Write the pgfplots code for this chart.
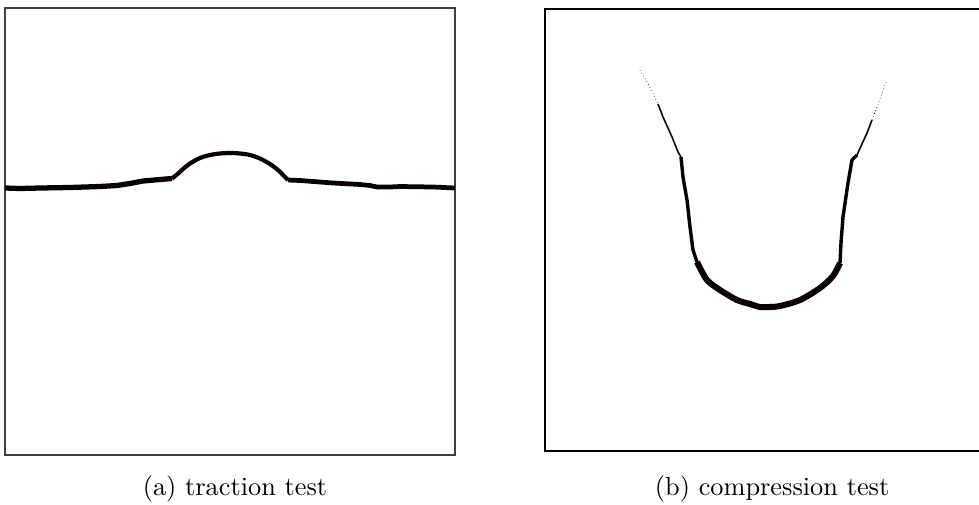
\documentclass[border=0pt]{standalone}
\usepackage{pgfplots}
\pgfplotsset{compat=1.18}
\definecolor{ink}{HTML}{0A0202}
\begin{document}
\begin{tikzpicture}
\path[use as bounding box] (0pt,0pt) rectangle (372.02pt,-191.9pt);
% left panel: pixel coordinates, y downward
\begin{axis}[
  at={(1.9pt,-172.9pt)}, anchor=south west,
  scale only axis, width=171pt, height=169.86pt,
  xmin=5, xmax=455, ymin=8, ymax=455, y dir=reverse,
  xtick=\empty, ytick=\empty,
  axis line style={draw=black!75, line width=0.6pt},
  clip=true,
]
\addplot[ink, line width=2.0pt, line join=round] coordinates {
(5,188) (20,188.5) (40,188) (70,187.5) (100,186.5) (117,185.5) (130,183.5)
(143,181) (160,179.5) (172,178.5)};
\addplot[ink, line width=1.6pt, line join=round, smooth, tension=0.5] coordinates {
(172,178.5) (177,174.5) (183,169) (190,163.5) (200,158) (210,155) (220,153.5)
(230,153) (240,153.5) (250,155) (260,158.5) (270,164) (278,170) (284,176) (288,180)};
\addplot[ink, line width=1.8pt, line join=round] coordinates {
(288,180) (300,180.5) (333,183) (360,184.5) (370,185.5) (377,187) (390,187)
(400,186.5) (433,187) (455,188)};
\end{axis}
% right panel
\begin{axis}[
  at={(207.1pt,-171.38pt)}, anchor=south west,
  scale only axis, width=167.2pt, height=167.96pt,
  xmin=545, xmax=985, ymin=9, ymax=451, y dir=reverse,
  xtick=\empty, ytick=\empty,
  axis line style={draw=black, line width=1.0pt},
  clip=true,
]
\addplot[ink, line width=0.25pt, densely dotted] coordinates {(640,70) (647,82) (653,93) (658,104)};
\addplot[ink, line width=0.6pt] coordinates {(658,104) (663,117) (672,137) (678,152) (681,157)};
\addplot[ink, line width=1.3pt, line join=round] coordinates {
(681,157) (683,177) (687,200) (690,227) (693,250) (697,262)};
\addplot[ink, line width=2.3pt, line join=round, smooth, tension=0.5] coordinates {
(697,262) (707,280) (720,290) (737,300) (750,304) (760,307) (770,307) (780,306)
(800,300) (820,288) (833,276) (840,263)};
\addplot[ink, line width=1.3pt, line join=round] coordinates {
(840,263) (841,243) (843,217) (848,183) (852,160) (857,155)};
\addplot[ink, line width=0.6pt] coordinates {(857,155) (867,133) (872,120)};
\addplot[ink, line width=0.25pt, densely dotted] coordinates {(872,120) (877,107) (887,80)};
\end{axis}
\node[font=\normalsize] at (89.3pt,-185.8pt) {(a) traction test};
\node[font=\normalsize] at (293.4pt,-185.8pt) {(b) compression test};
\end{tikzpicture}
\end{document}
